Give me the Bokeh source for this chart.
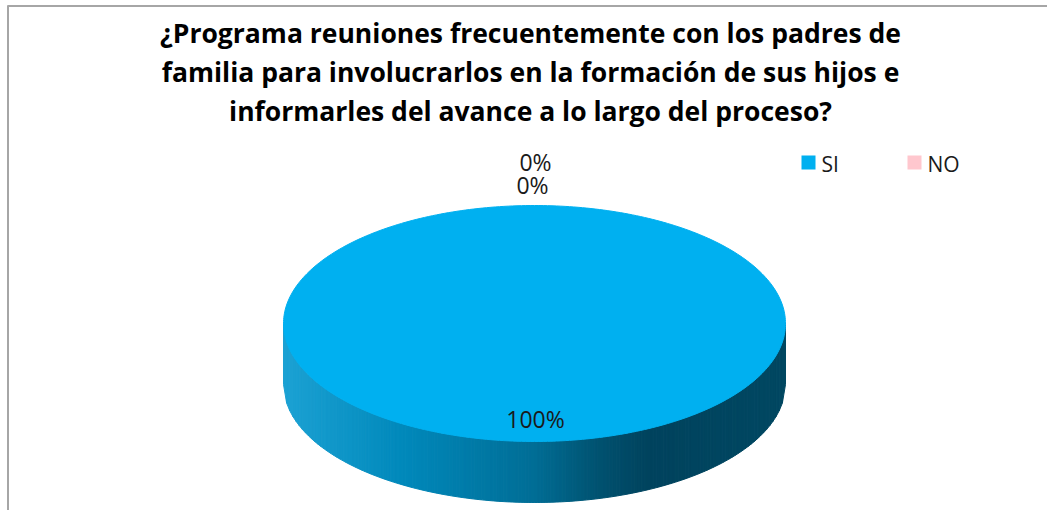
import numpy as np
from bokeh.plotting import figure
from bokeh.models import Range1d
from bokeh.core.properties import value
from bokeh.embed import file_html
from bokeh.resources import INLINE

# ---- data ----
categories = ["SI", "NO"]
values = [100, 0]
colors = ["#00B0F0", "#FFC7CE"]
title_lines = [
    "¿Programa reuniones frecuentemente con los padres de",
    "familia para involucrarlos en la formación de sus hijos e",
    "informarles del avance a lo largo del proceso?",
]
label_texts = ["0%", "0%", "100%"]

# ---- figure (data coords = pixel coords) ----
W, H = 1047, 510
p = figure(width=W, height=H, output_backend="svg", toolbar_location=None,
           x_range=Range1d(0, W), y_range=Range1d(H, 0),
           x_axis_type=None, y_axis_type=None, min_border=0)
p.grid.visible = False
p.outline_line_color = None
p.background_fill_color = "white"

# chart border (top and left only visible)
p.line(x=[7, W], y=[5.5, 5.5], line_color="#A6A6A6", line_width=2)
p.line(x=[7.5, 7.5], y=[5, H], line_color="#A6A6A6", line_width=2)

# title
font = value("Open Sans")
for i, t in enumerate(title_lines):
    p.text(x=[530], y=[32 + 39 * i], text=[t], text_font=font, text_font_style="bold",
           text_font_size="26.5px", text_align="center", text_baseline="middle", text_color="black")

# pie geometry
cx, cy, rx, ry, depth = 534, 323, 251, 118, 61
total = sum(values)
fracs = [v / total for v in values]

# side (front) with horizontal gradient
stops_t = [0.0, 0.25, 0.5, 0.63, 0.73, 1.0]
stops_c = [(28, 162, 212), (0, 136, 186), (0, 110, 150), (0, 82, 112), (0, 67, 94), (0, 72, 98)]
N = 160
xs_e = np.linspace(cx - rx, cx + rx, N + 1)
xs_list, ys_list, cols = [], [], []
for i in range(N):
    x0, x1 = xs_e[i], xs_e[i + 1]
    y0 = cy + ry * np.sqrt(max(0.0, 1 - ((x0 - cx) / rx) ** 2))
    y1 = cy + ry * np.sqrt(max(0.0, 1 - ((x1 - cx) / rx) ** 2))
    xs_list.append([x0, x1, x1, x0])
    ys_list.append([y0, y1, y1 + depth, y0 + depth])
    t = (i + 0.5) / N
    c = [int(np.interp(t, stops_t, [s[k] for s in stops_c])) for k in range(3)]
    cols.append("#%02x%02x%02x" % tuple(c))
if fracs[0] > 0:
    p.patches(xs=xs_list, ys=ys_list, fill_color=cols, line_color=cols, line_width=1)

# top face slices from data
start = 0.0
for cat, f, col in zip(categories, fracs, colors):
    if f <= 0:
        continue
    a = np.linspace(start, start + 2 * np.pi * f, 361)
    px = cx + rx * np.sin(a)
    py = cy - ry * np.cos(a)
    if f < 1:
        px = np.concatenate([[cx], px])
        py = np.concatenate([[cy], py])
    p.patch(x=px, y=py, fill_color=col, line_color=col, line_width=1)
    start += 2 * np.pi * f

# data labels
p.text(x=[535, 532, 535], y=[161, 184, 418], text=label_texts, text_font=value("Open Sans"),
       text_font_size="23px", text_align="center", text_baseline="middle", text_color="#1a1a1a")

# legend
leg_x = [808, 914]
for cat, col, lx in zip(categories, colors, leg_x):
    p.rect(x=[lx], y=[162], width=14, height=14, fill_color=col, line_color=None)
    p.text(x=[lx + 13], y=[163], text=[cat], text_font=value("Open Sans"), text_font_size="21px",
           text_align="left", text_baseline="middle", text_color="#1a1a1a")

open("out.html", "w").write(file_html(p, INLINE))
